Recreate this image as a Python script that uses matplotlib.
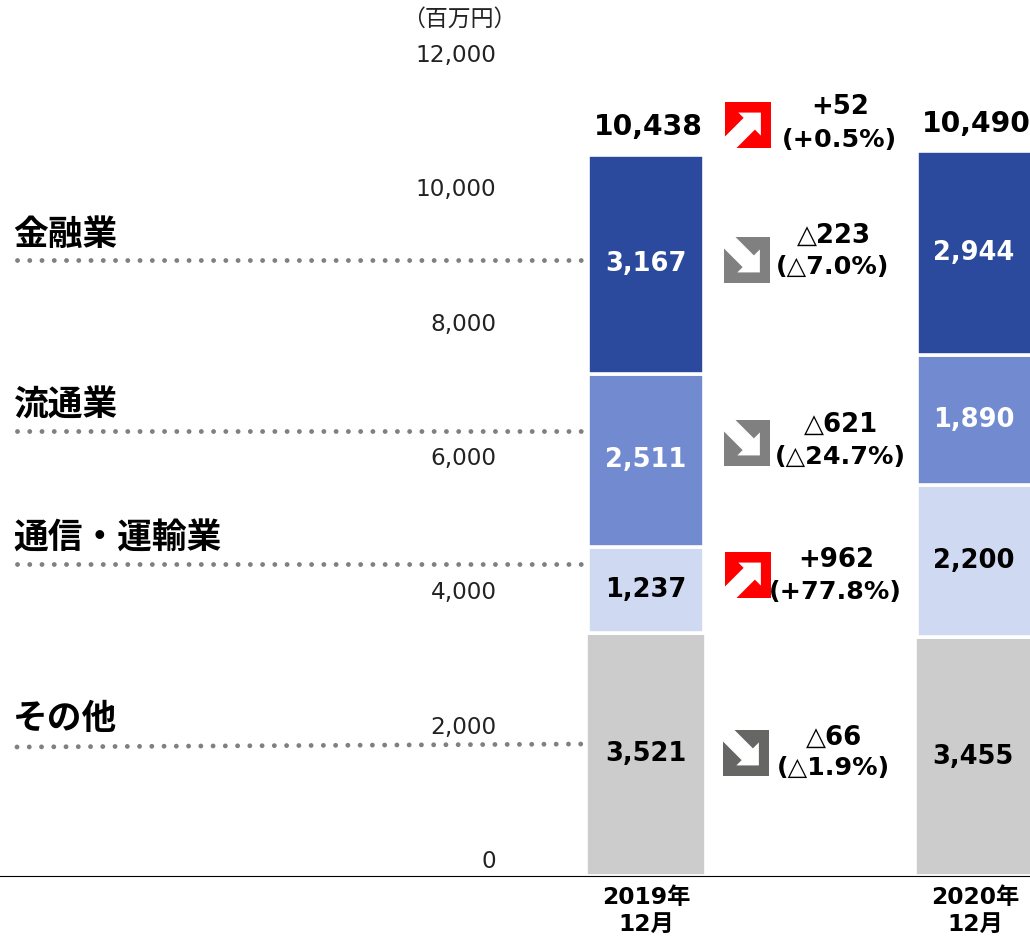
import matplotlib
matplotlib.use("Agg")
import matplotlib.pyplot as plt
from matplotlib.patches import Polygon, Rectangle

plt.rcParams['font.family'] = ['DejaVu Sans', 'Noto Sans CJK JP']

W, H = 1030, 939

periods = ["2019年\n12月", "2020年\n12月"]
segments = ["その他", "通信・運輸業", "流通業", "金融業"]
other = [3521, 3455]
telecom = [1237, 2200]
retail = [2511, 1890]
finance = [3167, 2944]
totals = ["10,438", "10,490"]
yticks = [0, 2000, 4000, 6000, 8000, 10000, 12000]

change_main = ["△66", "+962", "△621", "△223", "+52"]
change_pct = ["(△1.9%)", "(+77.8%)", "(△24.7%)", "(△7.0%)", "(+0.5%)"]
change_up = [False, True, False, False, True]

colors = ["#cccccc", "#cfd9f2", "#718ad0", "#2b4a9e"]
text_colors = ["black", "black", "white", "white"]

# pixel layout
base_y = 876
px_per_unit = 0.0691
x0, x_step = 646, 329
label_y = [747, 564, 431, 260]
label_text_y = [718, 538, 405, 234]
change_x = [834, 836, 841, 834, 840]
change_y = [738, 560, 425, 236, 107]
pct_y = [768, 592, 457, 267, 140]
square_x = [723, 725, 724, 724, 725]
square_y = [730, 552, 420, 237, 102]
square_col = ["#666764", "#ff0000", "#808080", "#808080", "#ff0000"]
total_y = [127, 124]
total_x = [648, 976]

fig = plt.figure(figsize=(W / 100, H / 100), dpi=100)
ax = fig.add_axes([0, (H - base_y) / H, 1, base_y / H])
ax.set_xlim(-x0 / x_step, (W - x0) / x_step)
ax.set_ylim(0, base_y / px_per_unit)

bottom = [0, 0]
for i, vals in enumerate([other, telecom, retail, finance]):
    width = 120.5 / x_step if i == 0 else 116.5 / x_step
    bars = ax.bar([0, 1], vals, width=width, bottom=bottom, color=colors[i],
                  edgecolor="white", linewidth=2.6)
    ax.bar_label(bars, labels=[f"{v:,}" for v in vals], label_type="center",
                 color=text_colors[i], fontsize=18.5, fontweight="bold")
    bottom = [b + v for b, v in zip(bottom, vals)]

ax.set_xticks([0, 1], periods)
ax.tick_params(axis="x", length=0, pad=7.5, labelsize=16.8)
for t in ax.get_xticklabels():
    t.set_fontweight("bold")
    t.set_linespacing(1.22)
ax.set_yticks([])
for s in ["top", "left", "right"]:
    ax.spines[s].set_visible(False)
ax.spines["bottom"].set_linewidth(0.8)
ax.spines["bottom"].set_color("black")

# the printed scale does not line up with the bars in the reference
tick_ax = fig.add_axes([500 / W, (H - base_y) / H, (W - 500) / W, base_y / H])
tick_ax.patch.set_alpha(0)
tick_ax.set_ylim(-(base_y - 859) * 12000 / 806, 859 * 12000 / 806)
tick_ax.set_xticks([])
tick_ax.set_yticks(yticks, [f"{v:,}" for v in yticks])
tick_ax.tick_params(axis="y", length=0, pad=2.5, labelsize=16.7, labelcolor="#222222")
for s in tick_ax.spines.values():
    s.set_visible(False)

over = fig.add_axes([0, 0, 1, 1])
over.set_xlim(0, W)
over.set_ylim(H, 0)
over.axis("off")
over.patch.set_alpha(0)

over.text(459, 19, "（百万円）", ha="center", va="center", fontsize=16.5,
          family="Noto Sans CJK JP", color="#222222")

for name, ly, ty in zip(segments, label_y, label_text_y):
    end = ly - 3 if name == "その他" else ly
    over.plot([17, 586], [ly, end], color="#808080", lw=3.5,
              linestyle=(0, (0.001, 2.52)), dash_capstyle="round")
    over.text(13, ty, name, ha="left", va="center", fontsize=25,
              fontweight="bold", family="Noto Sans CJK JP")

for tx, ty, label in zip(total_x, total_y, totals):
    over.text(tx, ty, label, ha="center", va="center", fontsize=20.3, fontweight="bold")

up_arrow = [(.78, .23), (.29, .23), (.405, .345), (0, .75), (0, 1), (.25, 1), (.65, .60), (.78, .73)]
for i in range(5):
    sx, sy = square_x[i], square_y[i]
    over.add_patch(Rectangle((sx, sy), 46, 46, color=square_col[i], lw=0))
    pts = [(u, v if change_up[i] else 1 - v) for u, v in up_arrow]
    over.add_patch(Polygon([(sx + u * 46, sy + v * 46) for u, v in pts], color="white", lw=0))
    over.text(change_x[i], change_y[i], change_main[i], ha="center", va="center",
              fontsize=18.7, fontweight="bold")
    over.text(change_x[i] - 1, pct_y[i], change_pct[i], ha="center", va="center",
              fontsize=18.3, fontweight="bold")

fig.savefig("out.png", dpi=100)
